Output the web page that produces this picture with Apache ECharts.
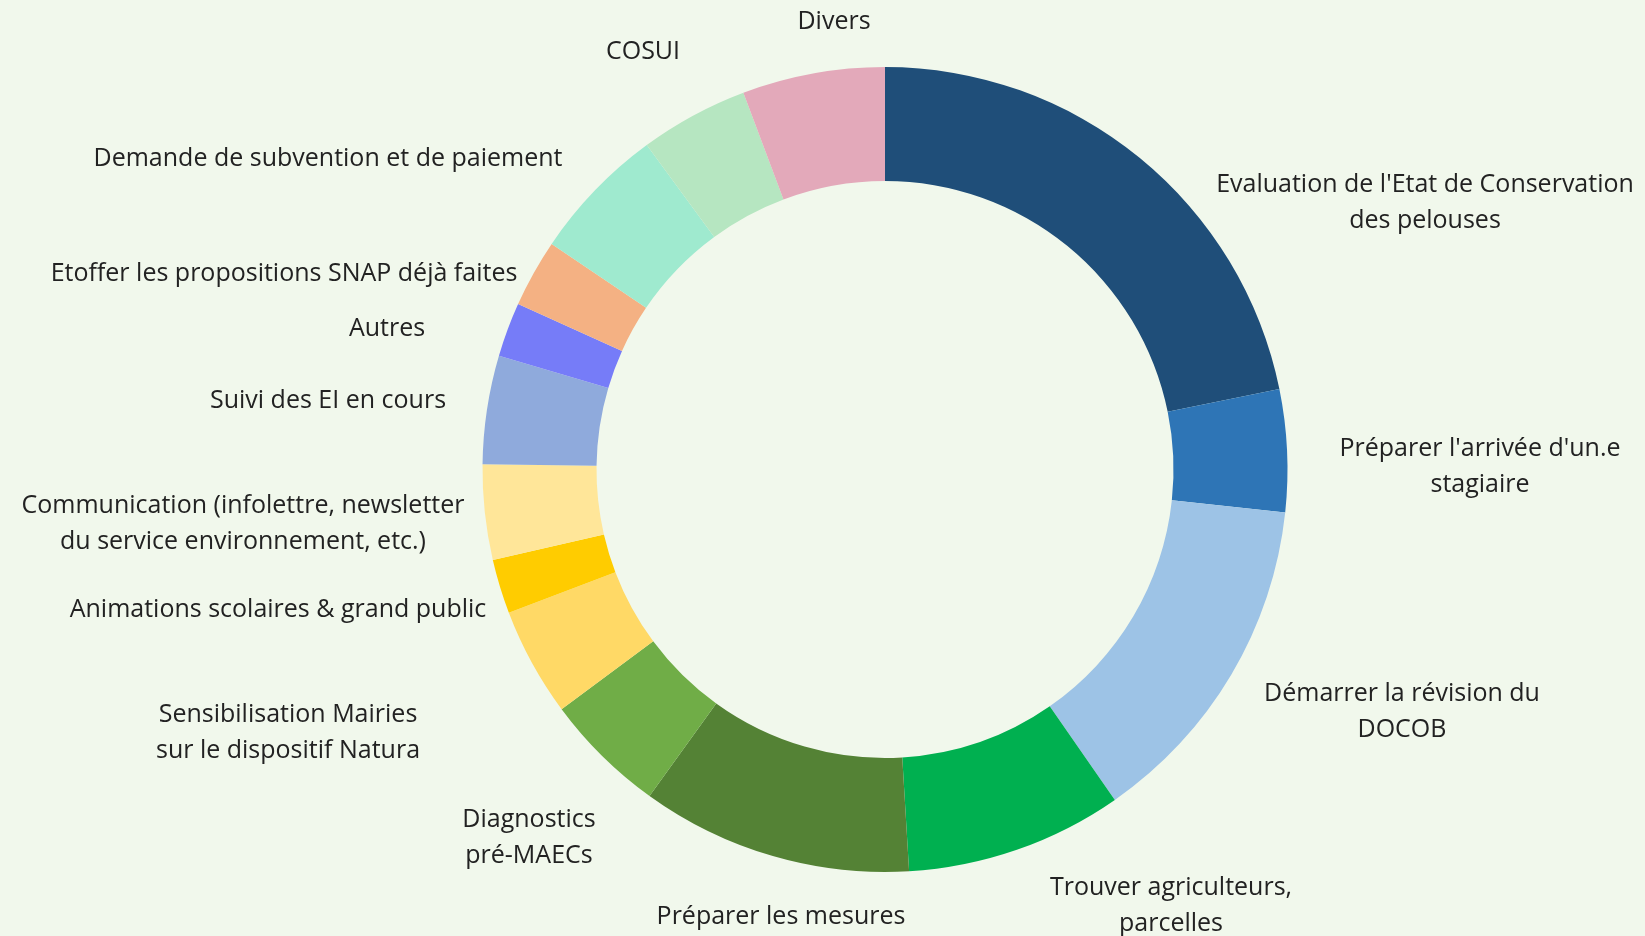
<!DOCTYPE html>
<html>
<head>
<meta charset="utf-8">
<script src="https://cdn.jsdelivr.net/npm/echarts@6/dist/echarts.min.js"></script>
<style>
html,body{margin:0;padding:0;background:#F1F8EC;}
#chart{width:1645px;height:936px;}
</style>
</head>
<body>
<div id="chart"></div>
<script>
// Categories (clockwise from top)
const categories = [
  "Evaluation de l'Etat de Conservation\ndes pelouses",
  "Préparer l'arrivée d'un.e\nstagiaire",
  "Démarrer la révision du\nDOCOB",
  "Trouver agriculteurs,\nparcelles",
  "Préparer les mesures",
  "Diagnostics\npré-MAECs",
  "Sensibilisation Mairies\nsur le dispositif Natura",
  "Animations scolaires & grand public",
  "Communication (infolettre, newsletter\ndu service environnement, etc.)",
  "Suivi des EI en cours",
  "Autres",
  "Etoffer les propositions SNAP déjà faites",
  "Demande de subvention et de paiement",
  "COSUI",
  "Divers"
];
// Values (estimated share of time)
const values = [20, 4.5, 12.5, 8, 10, 4.5, 4, 2, 3.5, 4, 2, 2.5, 5, 4, 5.25];
// Slice colours
const colors = [
  "#1F4E79", "#2E75B6", "#9DC3E6", "#00B050", "#548235",
  "#70AD47", "#FFD966", "#FFCC00", "#FFE699", "#8FAADC",
  "#767CF8", "#F4B183", "#9FEACF", "#B6E6C1", "#E3A9BA"
];
// Manually placed label anchors (centre of text block), as in the original
const labelAnchors = [
  [1425, 203], [1480, 467], [1402, 712], [1171, 906], [781, 917],
  [529, 838], [288, 733], [278, 610], [243, 524], [328, 401],
  [387, 329], [284, 274], [328, 159], [643, 52], [834, 22]
];

const chart = echarts.init(document.getElementById('chart'), null, {renderer: 'canvas'});
chart.setOption({
  backgroundColor: '#F1F8EC',
  animation: false,
  series: [{
    type: 'pie',
    center: [885, 469.5],
    radius: [288.5, 402.5],
    startAngle: 90,
    clockwise: true,
    avoidLabelOverlap: false,
    data: categories.map((c, i) => ({name: c, value: values[i], itemStyle: {color: colors[i]}})),
    itemStyle: {borderWidth: 0},
    label: {
      show: true,
      position: 'outside',
      formatter: '{b}',
      fontFamily: 'Open Sans',
      fontSize: 25,
      lineHeight: 36,
      color: '#222222',
      align: 'center'
    },
    labelLine: {show: false},
    labelLayout: function (params) {
      const p = labelAnchors[params.dataIndex];
      return {x: p[0], y: p[1], align: 'center', verticalAlign: 'middle'};
    },
    emphasis: {disabled: true}
  }]
});
</script>
</body>
</html>
